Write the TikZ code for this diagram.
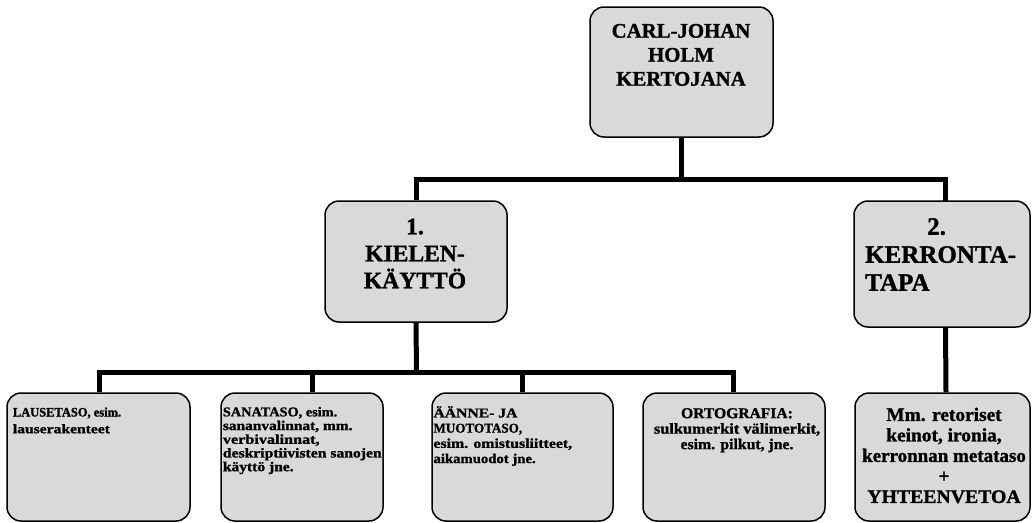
\documentclass[tikz,border=0pt]{standalone}
\usepackage{fontspec}
\usepackage{graphicx}
\setmainfont{Liberation Serif}[BoldFeatures={FakeBold=1.2}]
\definecolor{boxgray}{HTML}{D9D9D9}
\tikzset{
  box/.style={draw=black, line width=1.5pt, rounded corners=14pt, fill=boxgray, inner sep=0pt},
  conn/.style={line width=5pt, line cap=butt, line join=miter},
  txt/.style={inner sep=0pt, anchor=north, align=center},
  ltxt/.style={inner sep=0pt, anchor=north west, align=left},
}
\newcommand{\fs}[2]{\fontsize{#1}{#2}\selectfont\bfseries}
\newcommand{\hs}[2]{\scalebox{#1}[1]{#2}}
\begin{document}
\begin{tikzpicture}[x=1pt,y=-1pt]
\useasboundingbox (0,0) rectangle (1035,522);
% boxes
\node[box, minimum width=183pt, minimum height=130pt] (root) at (681.5,72) {};
\node[box, minimum width=182pt, minimum height=121pt] (kiel) at (416,261.5) {};
\node[box, minimum width=176pt, minimum height=126pt] (kerr) at (942,264) {};
\node[box, minimum width=183pt, minimum height=128pt] (b1) at (98.5,457) {};
\node[box, minimum width=162pt, minimum height=128pt] (b2) at (302,457) {};
\node[box, minimum width=181pt, minimum height=128pt] (b3) at (522.5,457) {};
\node[box, minimum width=182pt, minimum height=128pt] (b4) at (734,457) {};
\node[box, minimum width=175pt, minimum height=128pt] (b5) at (942.5,457) {};
% texts
\node[txt, font=\fs{20.8}{24}] (troot) at (681,23.7) {CARL-JOHAN\\HOLM\\KERTOJANA};
\node[txt, font=\fs{23.6}{27}] (tkiel) at (415,218.5) {1.\\KIELEN-\\KÄYTTÖ};
\node[ltxt, font=\fs{25}{28}] (tkerr) at (865,218) {\hspace*{62pt}2.\\KERRONTA-\\TAPA};
\node[ltxt, font=\fs{13}{16.7}] (tb1) at (12.7,407.3)
  {\hs{0.96}{LAUSETASO, esim.}\\\hs{1.2}{lauserakenteet}};
\node[ltxt, font=\fs{13.5}{13.7}] (tb2) at (222.7,406.8)
  {\hs{1.06}{SANATASO, esim.}\\\hs{1.14}{sananvalinnat, mm.}\\\hs{1.2}{verbivalinnat,}\\\hs{1.16}{deskriptiivisten sanojen}\\\hs{1.15}{käyttö jne.}};
\node[ltxt, font=\fs{13.5}{15.2}] (tb3) at (433.3,406)
  {\hs{1.16}{ÄÄNNE- JA}\\\hs{0.97}{MUOTOTASO,}\\\hs{1.17}{esim. omistusliitteet,}\\\hs{1.09}{aikamuodot jne.}};
\node[txt, font=\fs{15}{15.5}] (tb4) at (737,408)
  {\hs{1.04}{ORTOGRAFIA:}\\\hs{1.09}{sulkumerkit välimerkit,}\\\hs{1.05}{esim. pilkut, jne.}};
\node[txt, font=\fs{19}{20.5}] (tb5) at (944,407.5)
  {\hs{1.02}{Mm. retoriset}\\\hs{1.02}{keinot, ironia,}\\\hs{1.0}{kerronnan metataso}\\+\\\hs{1.04}{YHTEENVETOA}};
% connectors
\coordinate (bar1) at (681.5,179.5);
\coordinate (kerrtop) at (945.5,201);
\coordinate (bar2) at (416.5,372.5);
\draw[conn] (root.south) -- (bar1);
\draw[conn] (kiel.north) |- (bar1) -| (kerrtop);
\draw[conn] (kiel.south) -- (bar2);
\draw[conn] ([xshift=0.5pt]b1.north) |- (bar2) -| ([xshift=-1pt]b4.north);
\draw[conn] ([xshift=10pt]b2.north) -- ([xshift=10pt]b2.north |- bar2);
\draw[conn] (b3.north) -- (b3.north |- bar2);
\draw[conn] ([xshift=3.5pt]b5.north) -- ([xshift=3.5pt]kerr.south);
\end{tikzpicture}
\end{document}
